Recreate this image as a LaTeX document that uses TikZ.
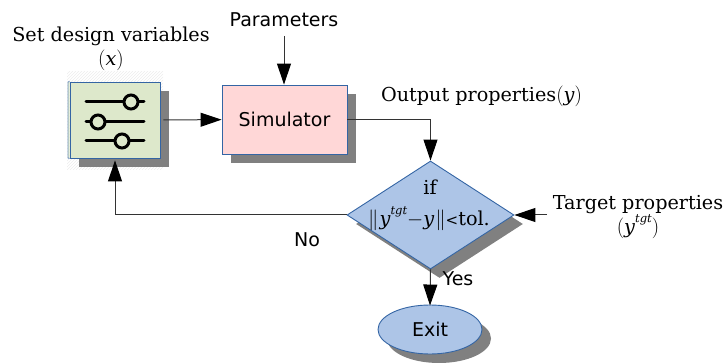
\documentclass[tikz,border=0pt]{standalone}
\usepackage{fontspec}
\setmainfont{DejaVu Sans}
\newfontfamily\serifface{DejaVu Serif}
\newfontfamily\sansface{DejaVu Sans}
\usetikzlibrary{arrows.meta,shapes.geometric,shadows,patterns}
\definecolor{boxgreen}{HTML}{DDE8CB}
\definecolor{boxpink}{HTML}{FFD7D7}
\definecolor{boxblue}{HTML}{ADC5E7}
\definecolor{edgeblue}{HTML}{3465A4}
\definecolor{shadowgray}{HTML}{808080}
\definecolor{linegray}{HTML}{333333}
\newcommand{\tgtsup}{\raisebox{0.58em}{\fontsize{11.5}{11.5}\selectfont\itshape tgt}}
\tikzset{
  shade9/.style={drop shadow={shadow xshift=9pt,shadow yshift=-9pt,fill=shadowgray,opacity=1}},
  blockbox/.style={draw=edgeblue,line width=0.9pt,inner sep=0pt,shade9},
  sanslabel/.style={inner sep=0pt,font=\fontsize{19}{22}\selectfont},
  seriflabel/.style={inner sep=0pt,align=center,font=\serifface\fontsize{19.2}{24}\selectfont},
  flow/.style={draw=linegray,line width=1pt,-{Triangle[length=21pt,width=14pt,color=black]}},
  sliderbar/.style={line width=3pt,line cap=round},
  sliderknob/.style={line width=3pt,fill=boxgreen}
}
\begin{document}
\begin{tikzpicture}[x=1pt,y=1pt]
  \useasboundingbox (0,0) rectangle (727,363);
  % sliders block
  \fill[pattern=north east lines,pattern color=black!7] (67,193) rectangle (163,291);
  \node[blockbox,fill=boxgreen,minimum width=90pt,minimum height=76pt] (sliders) at (115,243) {};
  \draw[edgeblue!70,line width=0.9pt,fill=boxgreen] (sliders.north west) -- (68,281) -- (68,205) -- (sliders.south west);
  \draw[sliderbar] (86,261) -- (144,261);
  \draw[sliderbar] (86,241) -- (144,241);
  \draw[sliderbar] (86,222) -- (144,222);
  \draw[sliderknob] (131,261) circle(7);
  \draw[sliderknob] (98,241) circle(7);
  \draw[sliderknob] (122,222) circle(7);
  % other blocks
  \node[blockbox,fill=boxpink,minimum width=125pt,minimum height=69pt,sanslabel] (simulator) at (284.5,243.5) {Simulator};
  \node[diamond,blockbox,fill=boxblue,minimum width=167pt,minimum height=108pt] (check) at (430.5,148) {};
  \node[ellipse,blockbox,fill=boxblue,minimum width=104pt,minimum height=49pt,sanslabel] (exit) at (430,33.5) {Exit};
  % texts
  \node[seriflabel] (setvars) at (111,314.5) {Set design variables\\$($\textit{x}$)$};
  \node[sanslabel] (params) at (284,343) {Parameters};
  \node[seriflabel] (output) at (481.5,267) {Output properties$($\textit{y}$)$};
  \node[seriflabel] (checkif) at (430,176) {if};
  \node[seriflabel] (checktext) at (429,144) {$\bigg\|$\kern1pt\textit{y}\tgtsup$-$\textit{y}\kern1pt$\bigg\|${\sansface\fontsize{15}{15}\selectfont<}tol.};
  \node[seriflabel] (target) at (638,146) {Target properties\\$($\textit{y}\tgtsup$)$};
  \node[sanslabel] (no) at (307,123) {No};
  \node[sanslabel] (yes) at (458,84) {Yes};
  % free ends
  \coordinate (paramstail) at (284,327);
  \coordinate (targettail) at (547,148);
  % connectors
  \draw[flow,shorten <=3pt] (sliders) -- (simulator);
  \draw[flow] (paramstail) -- (simulator.north -| paramstail);
  \draw[flow] (simulator.east) -| (check.north);
  \draw[flow] (targettail) -- (check.east);
  \draw[flow,shorten >=-1pt] (check.south) -- (exit.north);
  \draw[flow,shorten >=2pt] (check.west) -| (sliders.south);
\end{tikzpicture}
\end{document}
